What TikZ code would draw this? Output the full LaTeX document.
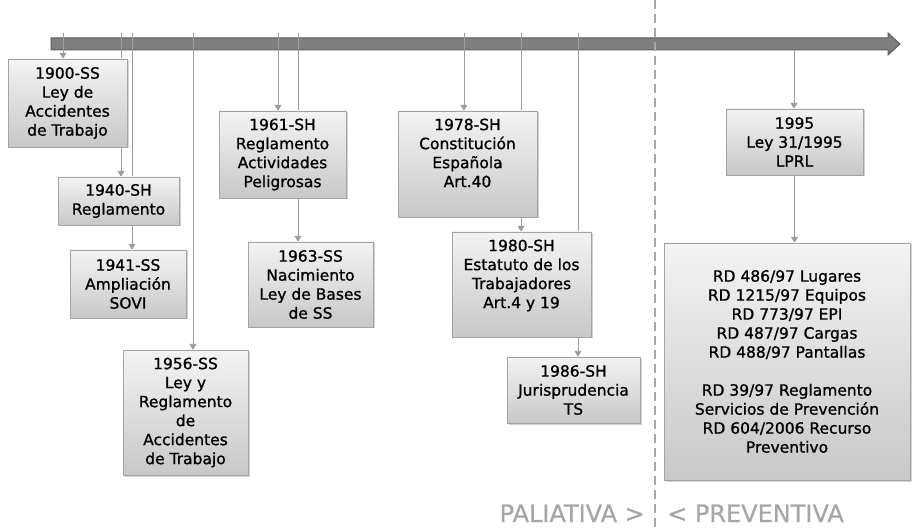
\documentclass[tikz,border=0pt]{standalone}
\usepackage{fontspec}
\setmainfont{DejaVu Sans}
\newfontfamily\hitofont[FakeBold=1.0]{DejaVu Sans}
\newfontfamily\etapafont[FakeBold=0.6]{DejaVu Sans}
\usetikzlibrary{arrows.meta, shadows, backgrounds}

\definecolor{boxline}{HTML}{A3A3A3}
\definecolor{boxtop}{HTML}{F3F3F3}
\definecolor{boxbot}{HTML}{C8C8C8}
\definecolor{barfill}{HTML}{7F7F7F}
\definecolor{barline}{HTML}{5C5C5C}
\definecolor{linkgray}{HTML}{9C9C9C}
\definecolor{etapagray}{HTML}{A6A6A6}

\begin{document}
\begin{tikzpicture}[x=1pt, y=-1pt,
    hito/.style={draw=boxline, top color=boxtop, bottom color=boxbot, align=center,
        inner sep=0pt, text=black,
        font=\hitofont\fontsize{15.5}{19}\selectfont,
        drop shadow={shadow xshift=1.5pt, shadow yshift=-1.5pt, opacity=0.35}},
    flecha/.style={draw=linkgray, line width=0.9pt, -{Triangle[length=6pt,width=7pt]}},
    etapa/.style={text=etapagray, inner sep=0pt, font=\etapafont\fontsize{24}{28}\selectfont}
    ]
    \useasboundingbox (0,0) rectangle (913,529);

    % hitos
    \node[hito, minimum width=119, minimum height=88] (n1900) at (67.5,103) {1900-SS\\Ley de\\Accidentes\\de Trabajo};
    \node[hito, minimum width=121, minimum height=48] (n1940) at (118.5,201) {1940-SH\\Reglamento};
    \node[hito, minimum width=116, minimum height=68] (n1941) at (128,284) {1941-SS\\Ampliación\\SOVI};
    \node[hito, minimum width=125, minimum height=125] (n1956) at (185.5,412.5) {1956-SS\\Ley y\\Reglamento\\de\\Accidentes\\de Trabajo};
    \node[hito, minimum width=127, minimum height=87] (n1961) at (282.5,154.5) {1961-SH\\Reglamento\\Actividades\\Peligrosas};
    \node[hito, minimum width=125, minimum height=85] (n1963) at (310.5,284.5) {1963-SS\\Nacimiento\\Ley de Bases\\de SS};
    \node[hito, minimum width=139, minimum height=106] (n1978) at (467.5,164) {1978-SH\\Constitución\\Española\\Art.40\\\rule{0pt}{21pt}};
    \node[hito, minimum width=139, minimum height=105] (n1980) at (521.5,284.5) {1980-SH\\Estatuto de los\\Trabajadores\\Art.4 y 19\\\rule{0pt}{17pt}};
    \node[hito, minimum width=133, minimum height=66] (n1986) at (573.5,390) {1986-SH\\Jurisprudencia\\TS};
    \node[hito, minimum width=137, minimum height=66] (n1995) at (794.5,142) {1995\\Ley 31/1995\\LPRL};
    \node[hito, minimum width=246, minimum height=237] (nrd) at (787,361.5) {RD 486/97 Lugares\\RD 1215/97 Equipos\\RD 773/97 EPI\\RD 487/97 Cargas\\RD 488/97 Pantallas\\[19pt]RD 39/97 Reglamento\\Servicios de Prevención\\RD 604/2006 Recurso\\Preventivo};

    \node[etapa, anchor=base east] (paliativa) at (645,522) {PALIATIVA >};
    \node[etapa, anchor=base west] (preventiva) at (667,522) {< PREVENTIVA};

    \begin{scope}[on background layer]
        % eje del tiempo
        \draw[barline, fill=barfill, line width=1pt] (51,38) -- (888,38) -- (888,33) -- (900,44) -- (888,55) -- (888,50) -- (51,50) -- cycle;
        \foreach \x/\n in {63/n1900,121/n1940,132/n1941,193/n1956,278/n1961,298/n1963,464/n1978,521/n1980,578/n1986} {
            \coordinate (t\n) at (\x,33);
            \draw[flecha] (t\n) -- (t\n |- \n.north);
        }
        \coordinate (tn1995) at (794,50);
        \draw[flecha] (tn1995) -- (tn1995 |- n1995.north);
        \draw[flecha] (n1995.south) -- (n1995.south |- nrd.north);
        \draw[etapagray, line width=1.6pt, dash pattern=on 9pt off 5pt] (655,0) -- (655,529);
    \end{scope}
\end{tikzpicture}
\end{document}
